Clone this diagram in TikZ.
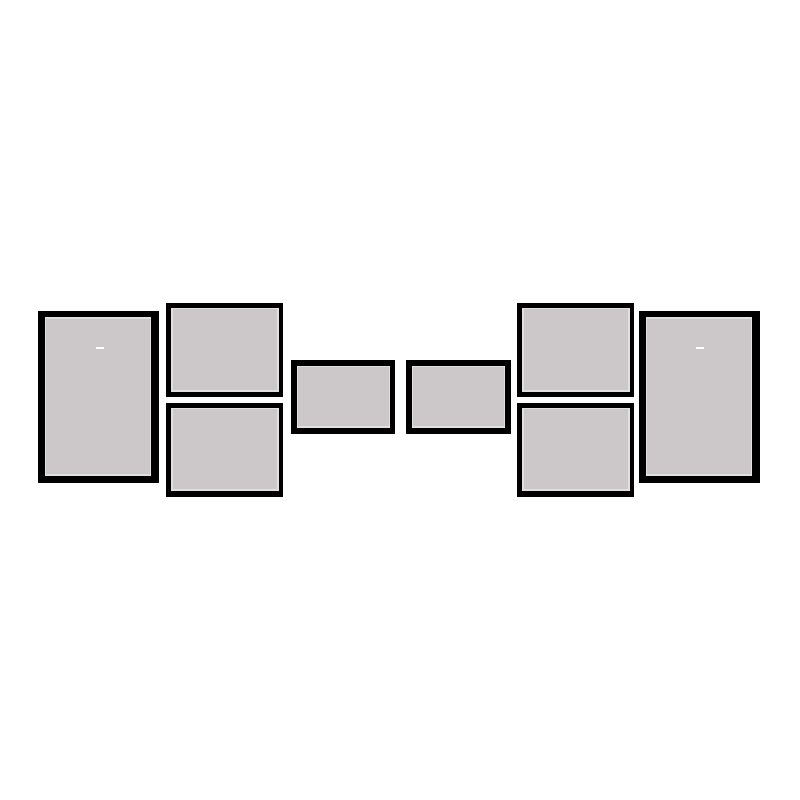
\documentclass[tikz,border=0pt]{standalone}
\usepackage{tikz}
\definecolor{mattegray}{RGB}{204,200,201}
\definecolor{mattedge}{RGB}{226,223,224}
\tikzset{
  framebox/.style={fill=black},
  photobox/.style={fill=mattegray, draw=mattedge, line width=0.5pt},
  hangmark/.style={draw=white, line width=0.8pt}
}

\begin{document}
\begin{tikzpicture}[x=0.01cm, y=-0.01cm]
\useasboundingbox[fill=white] (0,0) rectangle (800,800);

% Frames: outer x1,y1,x2,y2 / inner x1,y1,x2,y2
\foreach \ax/\ay/\bx/\by/\cx/\cy/\dx/\dy in {
  38/311/159/483/45.5/318/150.5/475,
  166/303/283/397/172/308.5/278/391,
  166/403/283/497/172/408.5/278/490,
  291/360/395/434/297.5/366.5/389.5/427,
  406/360/511/434/412.5/366.5/504.5/427,
  517/303/634/397/523/308.5/629/391,
  517/403/634/497/523/408.5/629/490,
  639/311/760/483/646.5/318/751.5/475}
{
  \fill[framebox] (\ax,\ay) rectangle (\bx,\by);
  \draw[photobox] (\cx,\cy) rectangle (\dx,\dy);
}

% Hanging marks
\draw[hangmark] (96,348) -- (104,348);
\draw[hangmark] (696,348) -- (704,348);
\end{tikzpicture}
\end{document}
